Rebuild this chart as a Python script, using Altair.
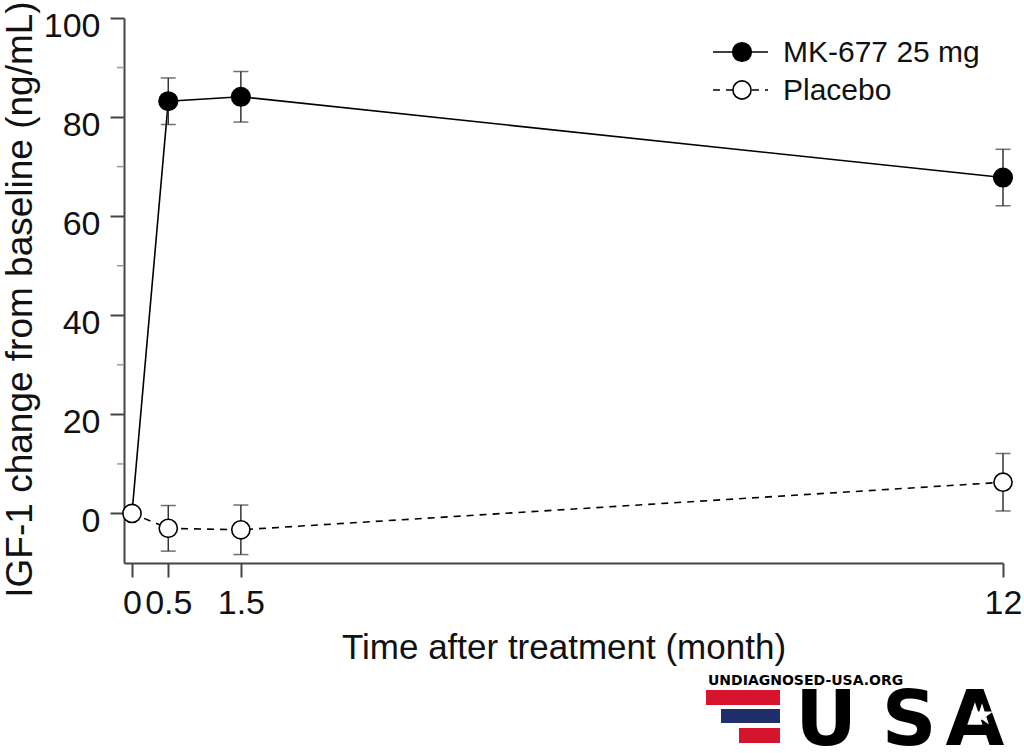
import altair as alt
import pandas as pd

# ---- data ----
months = [0, 0.5, 1.5, 12]
mk_mean = [0, 83.2, 84.1, 67.8]
mk_err = [0, 4.7, 5.1, 5.7]
pl_mean = [0, -3.0, -3.3, 6.3]
pl_err = [0, 4.6, 5.0, 5.8]
groups = ["MK-677 25 mg", "Placebo"]
x_ticks = [0, 0.5, 1.5, 12]
y_major = [0, 20, 40, 60, 80, 100]
y_minor = [10, 30, 50, 70, 90]

rows = []
for g, means, errs in [(groups[0], mk_mean, mk_err), (groups[1], pl_mean, pl_err)]:
    for m, v, e in zip(months, means, errs):
        rows.append({"group": g, "month": m, "value": v, "lo": v - e, "hi": v + e, "err": e})
df = pd.DataFrame(rows)
df_mk = df[df.group == groups[0]]
df_pl = df[df.group == groups[1]]
df_err = df[df.err > 0]

FONT = "Liberation Sans"
xs = alt.Scale(domain=[-0.11, 12], nice=False, zero=False)
ys = alt.Scale(domain=[-10, 100], nice=False, zero=False)

xenc = alt.X("month:Q", scale=xs, axis=alt.Axis(
    values=x_ticks, title="Time after treatment (month)", grid=False,
    domainColor="#444", domainWidth=2, tickColor="#444", tickWidth=2, tickSize=14,
    labelFont=FONT, labelFontSize=34, labelColor="#111", labelPadding=9,
    labelExpr="datum.value", labelFlush=False, labelOverlap=False,
    titleFont=FONT, titleFontSize=35, titleFontWeight="normal", titleColor="#111",
    titleY=95, titleBaseline="alphabetic"))
yenc = alt.Y("value:Q", scale=ys, axis=alt.Axis(
    values=y_major, title="IGF-1 change from baseline (ng/mL)", grid=False,
    domainColor="#444", domainWidth=2, tickColor="#444", tickWidth=2, tickSize=14,
    labelFont=FONT, labelFontSize=34, labelColor="#111", labelPadding=10, labelOffset=8,
    titleFont=FONT, titleFontSize=37, titleFontWeight="normal", titleColor="#111",
    titleX=-104, titleY=281, titleAngle=-90, titleAlign="center", titleBaseline="middle"))

minor = alt.Chart(pd.DataFrame({"v": y_minor})).mark_rule(color="#999", strokeWidth=1.5).encode(
    y=alt.Y("v:Q", scale=ys), x=alt.value(-7), x2=alt.value(0))

line_mk = alt.Chart(df_mk).mark_line(color="black", strokeWidth=1.6).encode(x=xenc, y=yenc)
line_pl = alt.Chart(df_pl).mark_line(color="black", strokeWidth=1.6, strokeDash=[7, 6]).encode(
    x=alt.X("month:Q", scale=xs), y=alt.Y("value:Q", scale=ys))

err_rule = alt.Chart(df_err).mark_rule(color="#333", strokeWidth=1.5).encode(
    x=alt.X("month:Q", scale=xs), y=alt.Y("lo:Q", scale=ys), y2="hi:Q")
cap_lo = alt.Chart(df_err).mark_tick(color="#333", thickness=1.5, size=15, orient="horizontal").encode(
    x=alt.X("month:Q", scale=xs), y=alt.Y("lo:Q", scale=ys))
cap_hi = alt.Chart(df_err).mark_tick(color="#333", thickness=1.5, size=15, orient="horizontal").encode(
    x=alt.X("month:Q", scale=xs), y=alt.Y("hi:Q", scale=ys))

pts_mk = alt.Chart(df_mk[df_mk.month > 0]).mark_point(
    shape="circle", filled=True, fill="black", stroke="black", size=330, opacity=1).encode(
    x=alt.X("month:Q", scale=xs), y=alt.Y("value:Q", scale=ys))
pts_pl = alt.Chart(df_pl).mark_point(
    shape="circle", filled=True, fill="white", stroke="black", strokeWidth=1.6, size=330, opacity=1).encode(
    x=alt.X("month:Q", scale=xs), y=alt.Y("value:Q", scale=ys))

# ---- legend (drawn manually) ----
leg = pd.DataFrame({"label": groups})
leg_line1 = alt.Chart(leg.iloc[[0]]).mark_rule(color="black", strokeWidth=1.6).encode(
    x=alt.value(589), x2=alt.value(644), y=alt.value(34))
leg_line2 = alt.Chart(leg.iloc[[1]]).mark_rule(color="black", strokeWidth=1.6, strokeDash=[7, 6]).encode(
    x=alt.value(589), x2=alt.value(644), y=alt.value(72))
leg_pt1 = alt.Chart(leg.iloc[[0]]).mark_point(shape="circle", filled=True, fill="black", stroke="black",
                                              size=330, opacity=1).encode(x=alt.value(618), y=alt.value(34))
leg_pt2 = alt.Chart(leg.iloc[[1]]).mark_point(shape="circle", filled=True, fill="white", stroke="black",
                                              strokeWidth=1.6, size=330, opacity=1).encode(x=alt.value(618), y=alt.value(72))
leg_t1 = alt.Chart(leg.iloc[[0]]).mark_text(font=FONT, fontSize=30, align="left", baseline="middle",
                                            color="#111").encode(x=alt.value(659), y=alt.value(35), text="label:N")
leg_t2 = alt.Chart(leg.iloc[[1]]).mark_text(font=FONT, fontSize=30, align="left", baseline="middle",
                                            color="#111").encode(x=alt.value(659), y=alt.value(73), text="label:N")

# ---- watermark ----
wm_text = alt.Chart(pd.DataFrame({"t": ["UNDIAGNOSED-USA.ORG"]})).mark_text(
    font="DejaVu Sans", fontWeight="bold", fontSize=14, align="left", baseline="middle",
    color="black").encode(x=alt.value(584), y=alt.value(663), text="t:N")
stripes = pd.DataFrame({
    "x1": [582, 597, 615], "x2": [656, 656, 656],
    "y1": [672, 691, 710], "y2": [687, 705, 725],
    "c": ["#d7142e", "#1f2f6b", "#d7142e"]})
wm_rects = []
for _, r in stripes.iterrows():
    wm_rects.append(alt.Chart(pd.DataFrame({"k": [0]})).mark_rect(color=r.c).encode(
        x=alt.value(r.x1), x2=alt.value(r.x2), y=alt.value(r.y1), y2=alt.value(r.y2)))
letters = pd.DataFrame({"t": ["U", "S", "A"], "xp": [702, 785, 851]})
wm_letters = []
for _, r in letters.iterrows():
    wm_letters.append(alt.Chart(pd.DataFrame({"t": [r.t]})).mark_text(
        font="DejaVu Sans", fontWeight="bold", fontSize=76, align="center", baseline="alphabetic",
        color="black").encode(x=alt.value(r.xp), y=alt.value(727), text="t:N"))
wm_star = alt.Chart(pd.DataFrame({"k": [0]})).mark_point(
    shape="M0,-1L0.2245,-0.309L0.951,-0.309L0.3633,0.118L0.5878,0.809L0,0.382L-0.5878,0.809L-0.3633,0.118L-0.951,-0.309L-0.2245,-0.309Z",
    filled=True, fill="white", size=550, opacity=1, strokeWidth=0).encode(x=alt.value(858), y=alt.value(697))

chart = alt.layer(
    line_mk, minor, line_pl, err_rule, cap_lo, cap_hi, pts_mk, pts_pl,
    leg_line1, leg_line2, leg_pt1, leg_pt2, leg_t1, leg_t2,
    wm_text, *wm_rects, *wm_letters, wm_star
).properties(
    width=879, height=545,
    autosize=alt.AutoSizeParams(type="none"),
    padding={"left": 124, "top": 18, "right": 21, "bottom": 190},
    background="white"
).configure_view(stroke=None)

chart.save("out.html", embed_options={"renderer": "svg", "actions": False})
